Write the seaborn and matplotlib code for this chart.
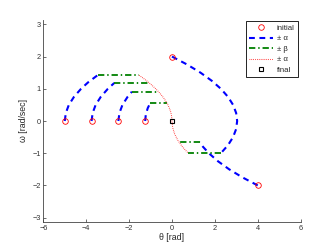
import numpy as np
import seaborn as sns
import matplotlib.pyplot as plt
from matplotlib.lines import Line2D

# initial states (theta, omega)
init_theta = [-5.0, -3.75, -2.5, -1.25, 0.0, 4.0]
init_omega = [0.0, 0.0, 0.0, 0.0, 2.0, -2.0]

# +/- alpha arcs (blue dashed)
accA_w = [0.0, 0.25, 0.5, 0.75, 1.0, 1.2, 1.42]
accA_t = [-5.00, -4.95, -4.81, -4.57, -4.24, -3.91, -3.47]
accB_w = [0.0, 0.25, 0.5, 0.75, 1.0, 1.18]
accB_t = [-3.75, -3.70, -3.56, -3.32, -2.99, -2.69]
accC_w = [0.0, 0.25, 0.5, 0.75, 0.91]
accC_t = [-2.50, -2.45, -2.31, -2.07, -1.87]
accD_w = [0.0, 0.2, 0.4, 0.55]
accD_t = [-1.25, -1.22, -1.13, -1.02]
accE_w = [2.0, 1.75, 1.5, 1.25, 1.0, 0.75, 0.5, 0.25, 0.0, -0.25, -0.5, -0.75, -1.0]
accE_t = [0.0, 0.712, 1.330, 1.852, 2.280, 2.612, 2.850, 2.992, 3.040, 2.992, 2.850, 2.612, 2.280]
accF_w = [-2.0, -1.75, -1.5, -1.25, -1.0, -0.8, -0.66]
accF_t = [4.0, 3.288, 2.670, 2.148, 1.720, 1.447, 1.291]

# +/- beta cruise segments (green dash-dot): omega, theta start, theta end
cruise_w = [1.42, 1.18, 0.91, 0.55, -1.0, -0.66]
cruise_t0 = [-3.47, -2.69, -1.87, -1.02, 2.28, 1.29]
cruise_t1 = [-1.53, -1.06, -0.63, -0.23, 0.76, 0.33]

# switching curve (red dotted)
sw_w = [1.42, 1.3, 1.2, 1.1, 1.0, 0.9, 0.8, 0.7, 0.6, 0.5, 0.4, 0.3, 0.2, 0.1, 0.0,
        -0.2, -0.4, -0.6, -0.8, -1.0]
sw_t = [-1.532, -1.284, -1.094, -0.919, -0.760, -0.616, -0.486, -0.372, -0.274, -0.190,
        -0.122, -0.068, -0.030, -0.008, 0.0, 0.030, 0.122, 0.274, 0.486, 0.760]

sns.set_style("ticks")
plt.rcParams['font.family'] = ['Liberation Sans', 'DejaVu Sans']

fig = plt.figure(figsize=(3.32, 2.5), dpi=100)
ax = fig.add_axes([0.1305, 0.111, 0.775, 0.81])

blue = dict(color='#0000ff', lw=1.5, dashes=(2.8, 2.2))
green = dict(color='#008000', lw=1.3, dashes=(3.5, 1.6, 0.8, 1.6))
red = dict(color='#ff2020', lw=0.75, dashes=(0.7, 1.1))

for t, w in [(accA_t, accA_w), (accB_t, accB_w), (accC_t, accC_w),
             (accD_t, accD_w), (accE_t, accE_w), (accF_t, accF_w)]:
    sns.lineplot(x=t, y=w, sort=False, estimator=None, ax=ax, **blue)

for w, t0, t1 in zip(cruise_w, cruise_t0, cruise_t1):
    sns.lineplot(x=[t0, t1], y=[w, w], sort=False, estimator=None, ax=ax, **green)

sns.lineplot(x=sw_t, y=sw_w, sort=False, estimator=None, ax=ax, **red)

ax.plot(init_theta, init_omega, 'o', ms=4, mfc='none', mec='#ff0000', mew=0.6)
ax.plot([0], [0], 's', ms=3.2, mfc='none', mec='k', mew=0.8)

ax.set_xlim(-6, 6)
ax.set_ylim(-np.pi, np.pi)
ax.set_xticks(range(-6, 7, 2))
ax.set_yticks(range(-3, 4))
ax.tick_params(direction='in', length=2, width=0.5, labelsize=5.3, colors='#333333', pad=2)
for s in ['top', 'right']:
    ax.spines[s].set_visible(False)
for s in ['left', 'bottom']:
    ax.spines[s].set_linewidth(0.6)
    ax.spines[s].set_color('#444444')
ax.set_xlabel('θ [rad]', fontsize=6.3, labelpad=1)
ax.set_ylabel('ω [rad/sec]', fontsize=6.3, labelpad=3)

handles = [
    Line2D([], [], ls='none', marker='o', ms=4, mfc='none', mec='#ff0000', mew=0.6),
    Line2D([], [], **blue),
    Line2D([], [], **green),
    Line2D([], [], **red),
    Line2D([], [], ls='none', marker='s', ms=3, mfc='none', mec='k', mew=0.8),
]
labels = ['initial', '± α', '± β', '± α', 'final']
leg = ax.legend(handles, labels, loc='upper right', bbox_to_anchor=(0.99, 0.995),
                fontsize=5.6, fancybox=False, framealpha=1, edgecolor='k',
                handlelength=3.0, handletextpad=0.5, borderpad=0.45,
                labelspacing=0.4, borderaxespad=0)
leg.get_frame().set_linewidth(0.6)

fig.savefig('out.png', dpi=100)
